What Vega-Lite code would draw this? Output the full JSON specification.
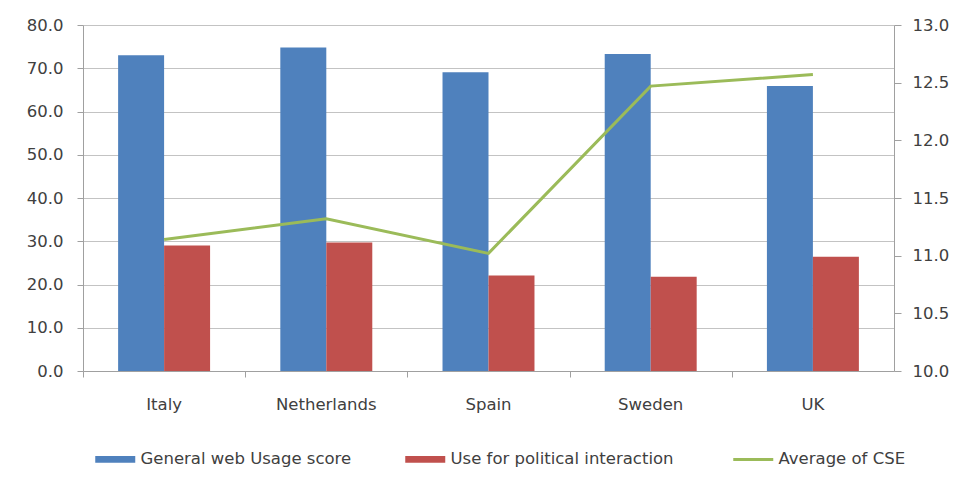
{
  "$schema": "https://vega.github.io/schema/vega-lite/v6.json",
  "width": 811,
  "height": 346,
  "autosize": {"type": "none"},
  "padding": {"left": 83, "top": 25, "right": 84, "bottom": 114},
  "background": "white",
  "config": {
    "view": {"stroke": null},
    "font": "DejaVu Sans",
    "axis": {
      "labelFont": "DejaVu Sans",
      "labelFontSize": 16.5,
      "labelColor": "#404040",
      "domainColor": "#a0a0a0",
      "tickColor": "#a0a0a0",
      "gridColor": "#c3c3c3",
      "title": null
    }
  },
  "data": {
    "values": [
      {"country": "Italy", "series": "General web Usage score", "value": 73.0},
      {"country": "Italy", "series": "Use for political interaction", "value": 29.0},
      {"country": "Italy", "series": "Average of CSE", "value": 11.14},
      {"country": "Netherlands", "series": "General web Usage score", "value": 74.8},
      {"country": "Netherlands", "series": "Use for political interaction", "value": 29.7},
      {"country": "Netherlands", "series": "Average of CSE", "value": 11.32},
      {"country": "Spain", "series": "General web Usage score", "value": 69.1},
      {"country": "Spain", "series": "Use for political interaction", "value": 22.1},
      {"country": "Spain", "series": "Average of CSE", "value": 11.02},
      {"country": "Sweden", "series": "General web Usage score", "value": 73.3},
      {"country": "Sweden", "series": "Use for political interaction", "value": 21.8},
      {"country": "Sweden", "series": "Average of CSE", "value": 12.47},
      {"country": "UK", "series": "General web Usage score", "value": 65.9},
      {"country": "UK", "series": "Use for political interaction", "value": 26.4},
      {"country": "UK", "series": "Average of CSE", "value": 12.57}
    ]
  },
  "layer": [
    {
      "transform": [{"filter": "datum.series !== 'Average of CSE'"}],
      "mark": {"type": "bar"},
      "encoding": {
        "x": {
          "field": "country",
          "type": "nominal",
          "sort": null,
          "scale": {"paddingInner": 0.433, "paddingOuter": 0.2165},
          "axis": {"orient": "bottom", "labelAngle": 0, "ticks": false, "domain": true, "labelPadding": 25}
        },
        "xOffset": {
          "field": "series",
          "type": "nominal",
          "sort": ["General web Usage score", "Use for political interaction"],
          "scale": {"paddingInner": 0, "paddingOuter": 0}
        },
        "y": {
          "field": "value",
          "type": "quantitative",
          "scale": {"domain": [0, 80], "nice": false},
          "axis": {
            "orient": "left",
            "values": [0, 10, 20, 30, 40, 50, 60, 70, 80],
            "format": ".1f",
            "grid": true,
            "tickSize": 6,
            "labelPadding": 14
          }
        },
        "color": {
          "field": "series",
          "type": "nominal",
          "scale": {
            "domain": ["General web Usage score", "Use for political interaction", "Average of CSE"],
            "range": ["#4f81bd", "#c0504d", "#9bbb59"]
          },
          "legend": {
            "orient": "none",
            "legendX": 24,
            "legendY": 426,
            "direction": "horizontal",
            "title": null,
            "padding": 0,
            "symbolSize": 1600,
            "labelOffset": 17,
            "columnPadding": 53,
            "labelFont": "DejaVu Sans",
            "labelFontSize": 16.5,
            "labelColor": "#404040",
            "labelLimit": 400,
            "encode": {
              "symbols": {
                "update": {
                  "shape": {"signal": "datum.label === 'Average of CSE' ? 'M-1,0H1' : 'M-1,-0.17H1V0.17H-1Z'"},
                  "fill": {"signal": "datum.label === 'Average of CSE' ? 'transparent' : scale('color', datum.value)"},
                  "stroke": {"signal": "scale('color', datum.value)"},
                  "strokeWidth": {"signal": "datum.label === 'Average of CSE' ? 3 : 0"},
                  "opacity": {"value": 1}
                }
              }
            }
          }
        }
      }
    },
    {
      "transform": [{"filter": "datum.series === 'Average of CSE'"}],
      "mark": {"type": "line", "strokeWidth": 3},
      "encoding": {
        "x": {
          "field": "country",
          "type": "nominal",
          "sort": null,
          "axis": {"orient": "bottom", "labels": false, "domain": false, "ticks": true, "bandPosition": 0, "tickOffset": -35.1, "tickSize": 6}
        },
        "y": {
          "field": "value",
          "type": "quantitative",
          "scale": {"domain": [10, 13], "nice": false},
          "axis": {
            "orient": "right",
            "values": [10, 10.5, 11, 11.5, 12, 12.5, 13],
            "format": ".1f",
            "grid": false,
            "tickSize": 7,
            "labelPadding": 11
          }
        },
        "color": {"field": "series", "type": "nominal"}
      }
    }
  ],
  "resolve": {"scale": {"y": "independent"}, "axis": {"x": "independent"}}
}
